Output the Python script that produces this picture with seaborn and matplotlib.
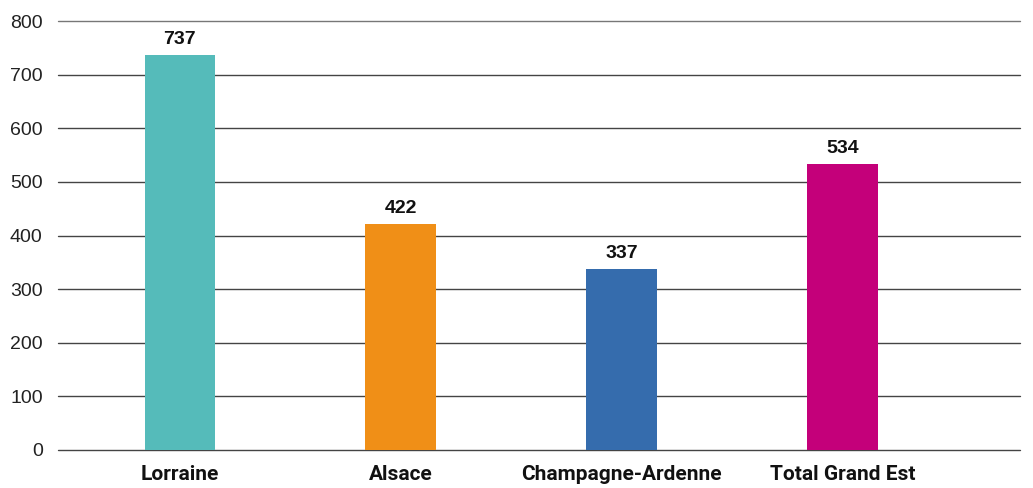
import matplotlib
matplotlib.use("Agg")
import matplotlib.pyplot as plt
import seaborn as sns
import pandas as pd

categories = ["Lorraine", "Alsace", "Champagne-Ardenne", "Total Grand Est"]
values = [737, 422, 337, 534]
colors = ["#55BBBA", "#F08F17", "#356CAD", "#C4007A"]
yticks = [0, 100, 200, 300, 400, 500, 600, 700, 800]

sns.set_theme(style="white")
plt.rcParams['font.family'] = ['Liberation Sans', 'DejaVu Sans']

df = pd.DataFrame({"cat": categories, "val": values})

fig = plt.figure(figsize=(10.33, 4.88), dpi=100)
ax = fig.add_axes([58/1033, 1-450/488, (1020-58)/1033, (450-21)/488])

sns.barplot(data=df, x="cat", y="val", hue="cat", palette=colors, width=0.32,
            legend=False, ax=ax, zorder=3, saturation=1, linewidth=0, edgecolor="none")

ax.set_ylim(0, 800)
ax.set_xlim(-0.552, 3.805)
ax.set_yticks(yticks)
ax.set_yticklabels([str(t) for t in yticks], fontsize=14, color="#222222")
for t in yticks:
    ax.axhline(t, color="#444444" if t != 800 else "#777777", linewidth=1.0, zorder=1, clip_on=False)
for s in ax.spines.values():
    s.set_visible(False)
ax.tick_params(axis="y", length=0, pad=11)
ax.tick_params(axis="x", length=0, pad=11)
ax.set_xlabel("")
ax.set_ylabel("")
ax.set_xticks(range(len(categories)))
ax.set_xticklabels(categories, fontsize=15, fontweight="bold", family="Roboto", color="#111111")

for i, v in enumerate(values):
    ax.annotate(str(v), (i, v), xytext=(0, 5), textcoords="offset points",
                ha="center", va="bottom", fontsize=14, fontweight="bold", color="#111111")

fig.savefig("out.png", dpi=100)
